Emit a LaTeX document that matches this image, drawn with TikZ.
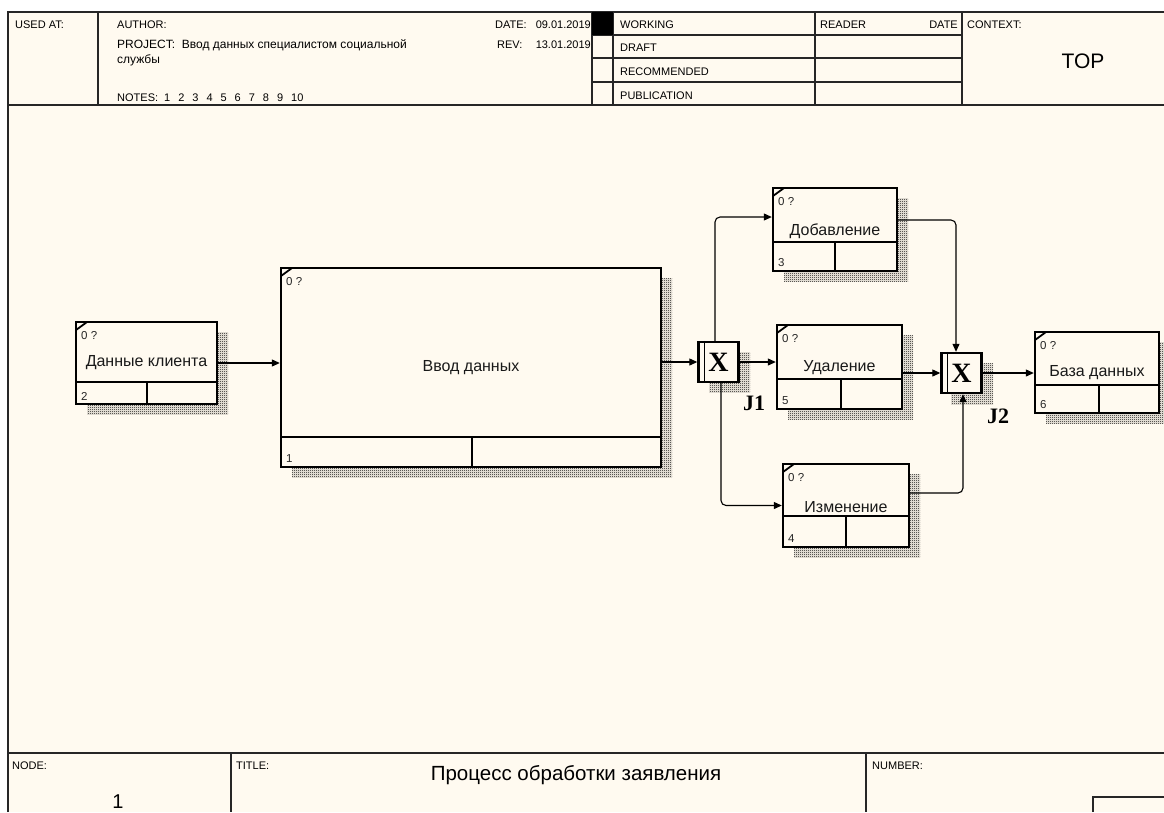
\documentclass[tikz,border=0pt]{standalone}
\usepackage{fontspec}
\setmainfont{Liberation Sans}
\newfontfamily\jfont{Liberation Serif}
\usetikzlibrary{arrows.meta,patterns,calc}
\definecolor{paper}{RGB}{255,250,240}
\pgfdeclarepatternformonly{checker}{\pgfqpoint{0pt}{0pt}}{\pgfqpoint{2pt}{2pt}}{\pgfqpoint{2pt}{2pt}}{%
  \pgfpathrectangle{\pgfqpoint{0pt}{0pt}}{\pgfqpoint{1pt}{1pt}}%
  \pgfpathrectangle{\pgfqpoint{1pt}{1pt}}{\pgfqpoint{1pt}{1pt}}%
  \pgfusepath{fill}}
\tikzset{
  frame/.style={line width=1.2pt, black!85},
  hdr/.style={inner sep=0pt, anchor=base west, font=\fontsize{11}{12}\selectfont, black},
  shade/.style={pattern=checker, pattern color=black},
  actbox/.style={draw, line width=2.4pt, fill=paper, inner sep=0pt},
  junct/.style={draw, line width=2.4pt, fill=paper, inner sep=0pt, minimum size=40pt,
    font=\jfont\bfseries\fontsize{28}{28}\selectfont},
  jlabel/.style={inner sep=0pt, font=\jfont\bfseries\fontsize{22}{22}\selectfont},
  boxtext/.style={inner sep=0pt, font=\fontsize{16}{18}\selectfont, black!90},
  tiny/.style={inner sep=0pt, anchor=west, font=\fontsize{11.5}{12}\selectfont, black!85},
  flow/.style={line width=1.1pt, -{Triangle[length=8pt,width=7pt]}}
}
\begin{document}
\begin{tikzpicture}[x=1pt,y=-1pt]
\useasboundingbox (0,0) rectangle (1164,812);
\fill[white] (0,0) rectangle (1164,812);
\fill[paper] (8,12) rectangle (1164,812);
% frame
\draw[frame] (8,812) -- (8,12) -- (1164,12);
\draw[frame] (8,105) -- (1164,105);
\draw[frame] (8,753) -- (1164,753);
\foreach \x in {98,592,613,815,962}
  \draw[frame] (\x,12) -- (\x,105);
\foreach \y in {35,58,82}
  \draw[frame] (592,\y) -- (962,\y);
\fill[black] (592,12) rectangle (613,35);
\draw[frame] (231,753) -- (231,812);
\draw[frame] (866,753) -- (866,812);
\draw[frame] (1093,812) -- (1093,797) -- (1164,797);
% header texts
\node[hdr] (usedat) at (15,28) {USED AT:};
\node[hdr] (author) at (117,28) {AUTHOR:};
\node[hdr, font=\fontsize{12}{13}\selectfont] (project) at (117,48) {PROJECT:\ \ Ввод данных специалистом социальной};
\node[hdr, font=\fontsize{12}{13}\selectfont] (projectb) at (117,63) {службы};
\node[hdr] (notes) at (117,101) {NOTES:\hspace{6pt}1\hspace{8pt}2\hspace{8pt}3\hspace{8pt}4\hspace{8pt}5\hspace{8pt}6\hspace{8pt}7\hspace{8pt}8\hspace{8pt}9\hspace{8pt}10};
\node[hdr] (datelbl) at (495,28) {DATE:};
\node[hdr, anchor=base east] (dateval) at (591,28) {09.01.2019};
\node[hdr] (revlbl) at (497,48) {REV:};
\node[hdr, anchor=base east] (revval) at (591,48) {13.01.2019};
\node[hdr] (working) at (620,28) {WORKING};
\node[hdr] (draft) at (620,51) {DRAFT};
\node[hdr] (recommended) at (620,75) {RECOMMENDED};
\node[hdr] (publication) at (620,99) {PUBLICATION};
\node[hdr] (reader) at (820,28) {READER};
\node[hdr, anchor=base east] (readerdate) at (958,28) {DATE};
\node[hdr] (context) at (967,28) {CONTEXT:};
\node[hdr, anchor=base, font=\fontsize{21}{23}\selectfont] (top) at (1083,68) {TOP};
% footer texts
\node[hdr] (nodelbl) at (12,769) {NODE:};
\node[hdr, anchor=base, font=\fontsize{20}{22}\selectfont] (nodeno) at (118,808) {1};
\node[hdr] (titlelbl) at (236,769) {TITLE:};
\node[hdr, anchor=base, font=\fontsize{20.5}{22}\selectfont] (title) at (576,780) {Процесс обработки заявления};
\node[hdr] (numberlbl) at (872,769) {NUMBER:};
% activity boxes
\foreach \nm/\xa/\ya/\xb/\yb/\dv/\sx/\ty/\txt/\nb in {
    klient/76/322/217/404/382/147/363/Данные клиента/2,
    vvod/281/268/661/467/437/472/368/Ввод данных/1,
    dobav/773/188/897/271/242/835/231/Добавление/3,
    udal/777/325/902/409/379/841/368/Удаление/5,
    izm/783/464/909/547/516/846/507/Изменение/4,
    baza/1035/332/1159/413/385/1099/373/База данных/6} {
  \fill[shade] (\xa+11,\ya+10) rectangle (\xb+11,\yb+10);
  \node[actbox, minimum width={(\xb-\xa)*1pt}, minimum height={(\yb-\ya)*1pt}]
    (\nm) at ({(\xa+\xb)/2},{(\ya+\yb)/2}) {};
  \draw[line width=2.4pt] (\xa,\dv) -- (\xb,\dv) (\sx,\dv) -- (\sx,\yb);
  \draw[line width=1.8pt] (\xa,\ya+8) -- (\xa+11,\ya);
  \node[tiny] (\nm-id) at (\xa+5,\ya+14) {0 ?};
  \node[tiny] (\nm-no) at (\xa+5,\yb-8) {\nb};
  \node[boxtext] (\nm-txt) at ({(\xa+\xb)/2},\ty) {\txt};
}
% junctions
\fill[shade] (709,352) rectangle (750,392);
\fill[shade] (951,363) rectangle (993,404);
\node[junct] (j1) at (718.5,362) {X};
\node[junct] (j2) at (961.5,373) {X};
\draw[line width=1.6pt] ($(j1.north west)+(7,0)$) -- ($(j1.south west)+(7,0)$);
\draw[line width=1.6pt] ($(j2.north west)+(7,0)$) -- ($(j2.south west)+(7,0)$);
\node[jlabel] (j1-lab) at (754,403) {J1};
\node[jlabel] (j2-lab) at (998,416) {J2};
% connectors
\draw[flow] (klient.east) -- (klient.east -| vvod.west);
\draw[flow] (vvod.east |- j1.west) -- (j1.west);
\draw[flow] (j1.east) -- (j1.east -| udal.west);
\draw[flow, rounded corners=5pt] ([xshift=-3.5pt]j1.north) |- ([yshift=12.5pt]dobav.west);
\draw[flow, rounded corners=5pt] ([xshift=2.5pt]j1.south) |- (izm.west);
\draw[flow, rounded corners=5pt] ([yshift=9.5pt]dobav.east) -| ([xshift=-5.5pt]j2.north);
\draw[flow] (udal.east |- j2.west) -- (j2.west);
\draw[flow, rounded corners=5pt] ([yshift=12.5pt]izm.east) -| ([xshift=1.5pt]j2.south);
\draw[flow] (j2.east) -- (j2.east -| baza.west);
\end{tikzpicture}
\end{document}
